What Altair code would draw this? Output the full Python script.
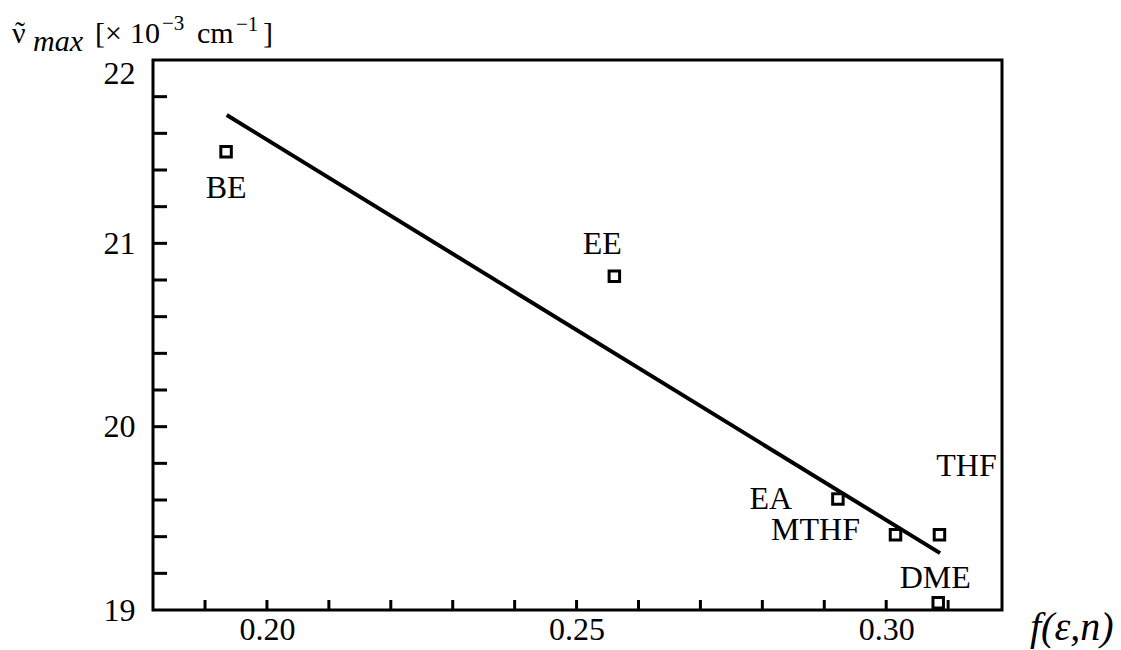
import altair as alt
import pandas as pd

# Solvents and their band maxima
solvents = ["BE", "EE", "EA", "MTHF", "THF", "DME"]
f_values = [0.1934, 0.2561, 0.2922, 0.3015, 0.3086, 0.3084]
nu_max = [21.50, 20.82, 19.605, 19.41, 19.41, 19.04]

# Least-squares line end points
fit_f = [0.1935, 0.3087]
fit_nu = [21.70, 19.31]

# Minor tick positions on both axes
x_ticks = [0.19, 0.20, 0.21, 0.22, 0.23, 0.24, 0.25, 0.26, 0.27, 0.28, 0.29, 0.30, 0.31]
y_ticks = [19.2, 19.4, 19.6, 19.8, 20.0, 20.2, 20.4, 20.6, 20.8, 21.0, 21.2, 21.4, 21.6, 21.8]
x_labels = [0.20, 0.25, 0.30]
y_labels = [19, 20, 21, 22]

# Label offsets (pixels) for each solvent name
label_dx = [0, -12, -67, -80, 27, -3]
label_dy = [36, -32, 0, -5, -69, -25]

SERIF = "Liberation Serif"
W, H = 849, 550
LEFT, TOP = 153, 60

pts = pd.DataFrame({"solvent": solvents, "f": f_values, "nu": nu_max})
fit = pd.DataFrame({"f": fit_f, "nu": fit_nu})
xt = pd.DataFrame({"f": x_ticks})
yt = pd.DataFrame({"nu": y_ticks})

xs = alt.Scale(domain=[0.1816, 0.3187], nice=False, zero=False)
ys = alt.Scale(domain=[19, 22], nice=False, zero=False)

x_axis = alt.Axis(values=x_labels, format=".2f", ticks=False, domain=False, grid=False,
                  labelFont=SERIF, labelFontSize=32, labelColor="black", labelPadding=4,
                  title=None)
y_axis = alt.Axis(values=y_labels, format="d", ticks=False, domain=False, grid=False,
                  labelFont=SERIF, labelFontSize=32, labelColor="black", labelPadding=18,
                  title=None,
                  labelOffset={"condition": {"test": "datum.value == 22", "value": 13}, "value": 0})

base_pts = alt.Chart(pts)

points = base_pts.mark_square(filled=False, size=110, strokeWidth=3, color="black",
                              opacity=1).encode(
    x=alt.X("f:Q", scale=xs, axis=x_axis),
    y=alt.Y("nu:Q", scale=ys, axis=y_axis),
)

line = alt.Chart(fit).mark_line(color="black", strokeWidth=4).encode(
    x=alt.X("f:Q", scale=xs), y=alt.Y("nu:Q", scale=ys)
)

xtick_marks = alt.Chart(xt).mark_rule(color="black", strokeWidth=3).encode(
    x=alt.X("f:Q", scale=xs), y=alt.value(H), y2=alt.value(H - 10)
)
ytick_marks = alt.Chart(yt).mark_rule(color="black", strokeWidth=3).encode(
    y=alt.Y("nu:Q", scale=ys), x=alt.value(0), x2=alt.value(14)
)

labels = []
for name, dx, dy in zip(solvents, label_dx, label_dy):
    labels.append(
        base_pts.transform_filter(alt.datum.solvent == name)
        .mark_text(font=SERIF, fontSize=32, color="black", dx=dx, dy=dy, baseline="middle")
        .encode(x=alt.X("f:Q", scale=xs), y=alt.Y("nu:Q", scale=ys), text="solvent:N")
    )

def txt(s, x, y, size=30, style="normal", baseline="alphabetic", align="left"):
    return alt.Chart(pd.DataFrame({"t": [s]})).mark_text(
        font=SERIF, fontSize=size, fontStyle=style, color="black",
        align=align, baseline=baseline
    ).encode(x=alt.value(x - LEFT), y=alt.value(y - TOP), text="t:N")

# y-axis title: ν̃_max [× 10^-3 cm^-1]
title_parts = [
    txt("ν", 12, 43, 30),
    txt("˜", 20, 42, 30, align="center"),
    txt("max", 33, 51, 30, "italic"),
    txt("[×", 95, 43, 30),
    txt("10", 130, 43, 30),
    txt("−3", 162, 30, 21),
    txt("cm", 197, 43, 30),
    txt("−1", 236, 31, 21),
    txt("]", 263, 43, 30),
]
x_title = txt("f(ε,n)", 1030, 628, 40, "italic", "middle")

chart = alt.layer(
    xtick_marks, ytick_marks, line, points, *labels, *title_parts, x_title
).properties(
    width=W, height=H,
    autosize=alt.AutoSizeParams(type="none"),
    padding={"left": LEFT, "top": TOP, "right": 1121 - LEFT - W, "bottom": 650 - TOP - H},
    background="white",
).configure_view(stroke="black", strokeWidth=3)

chart.save("out.html", embed_options={"renderer": "svg", "actions": False})
